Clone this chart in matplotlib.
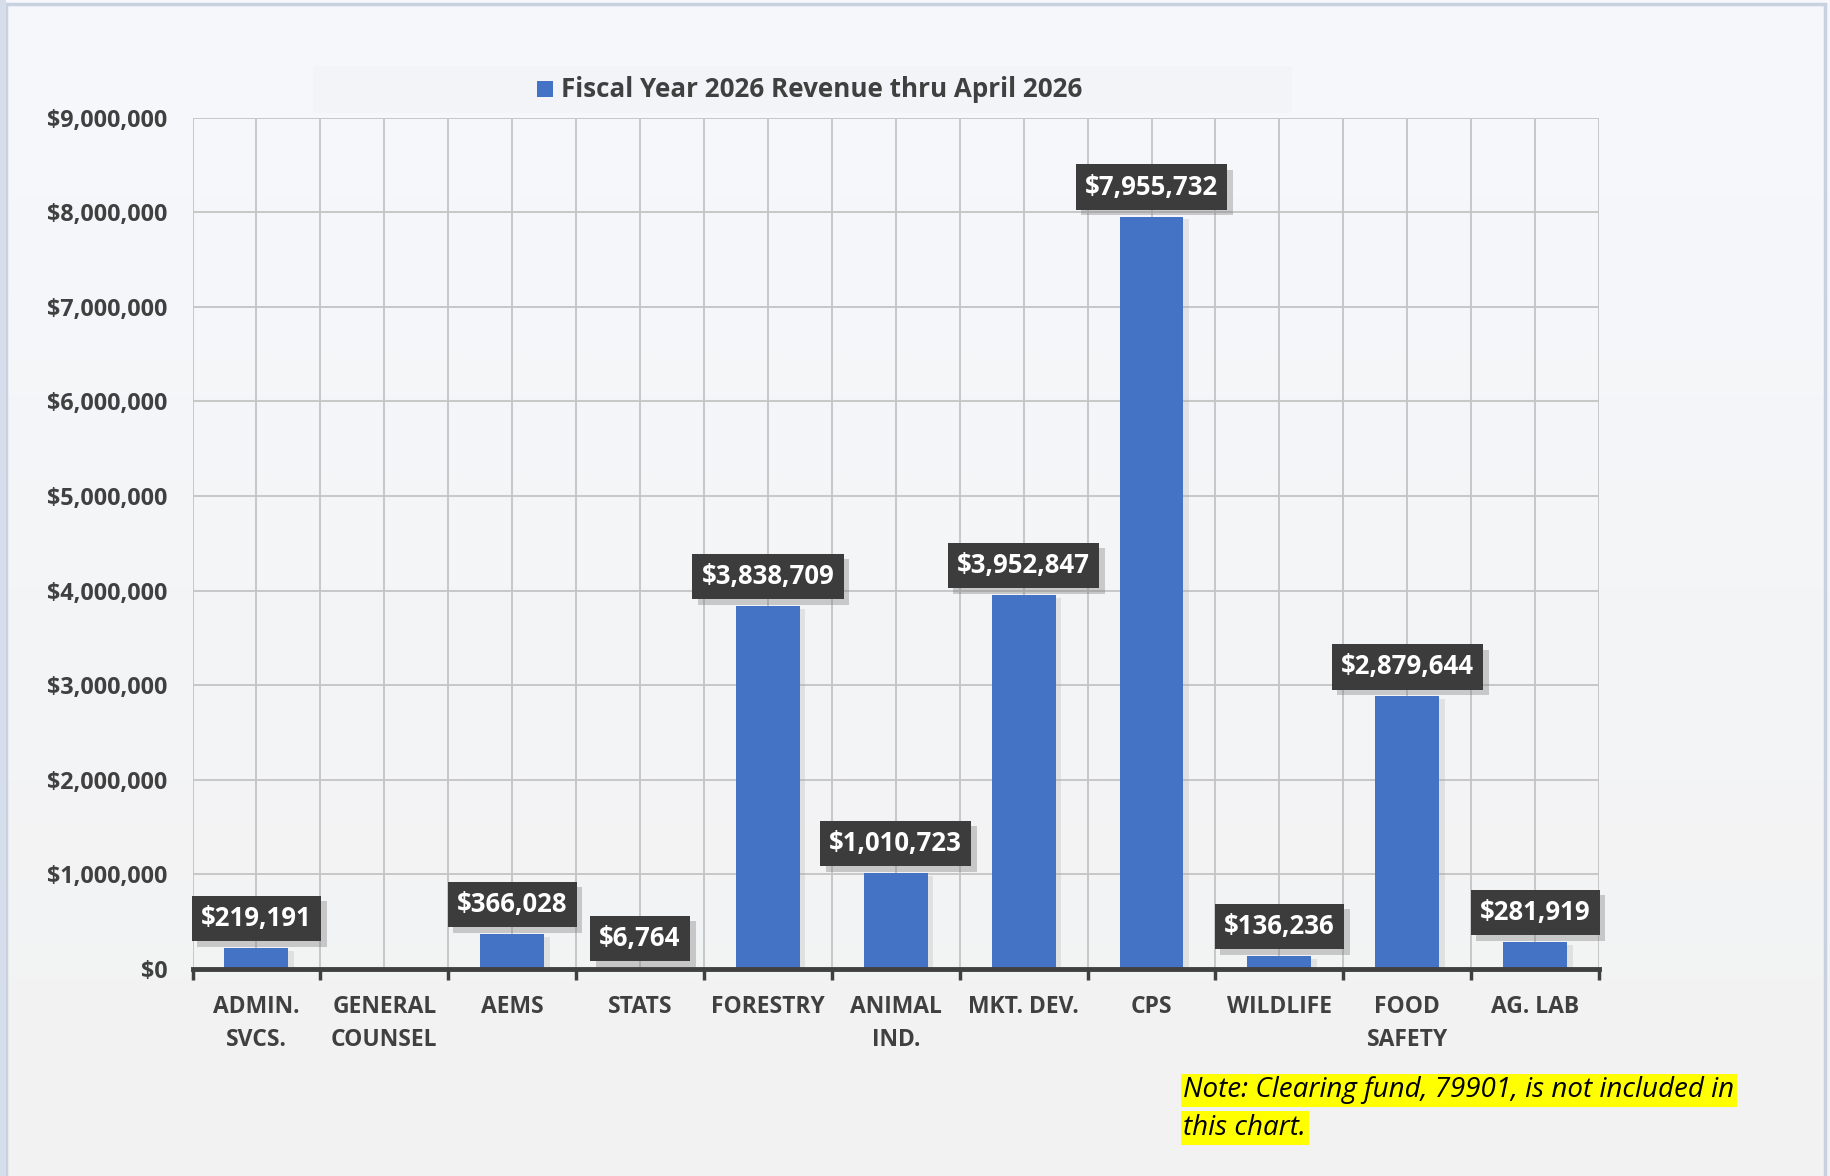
import matplotlib.pyplot as plt
import numpy as np
from matplotlib import patheffects as pe
from matplotlib.patches import Rectangle
from matplotlib.ticker import FuncFormatter

# data
categories = ["ADMIN.\nSVCS.", "GENERAL\nCOUNSEL", "AEMS", "STATS", "FORESTRY",
              "ANIMAL\nIND.", "MKT. DEV.", "CPS", "WILDLIFE", "FOOD\nSAFETY", "AG. LAB"]
revenue = [219191, 0, 366028, 6764, 3838709, 1010723, 3952847, 7955732,
           136236, 2879644, 281919]
y_ticks = list(range(0, 9_000_001, 1_000_000))
series_name = "Fiscal Year 2026 Revenue thru April 2026"
note_lines = ["Note: Clearing fund, 79901, is not included in", "this chart."]

BAR_COLOR = "#4472C4"
TEXT_COLOR = "#404040"
GRID_COLOR = "#c4c4c4"

plt.rcParams['font.family'] = ['Open Sans', 'DejaVu Sans']

fig = plt.figure(figsize=(18.3, 11.76), dpi=100)

# background gradient for the whole chart area
bg = fig.add_axes([0, 0, 1, 1], zorder=-10)
grad = np.linspace(0, 1, 256).reshape(-1, 1)
top = np.array([0xf6, 0xf8, 0xfc]) / 255
bot = np.array([0xf2, 0xf2, 0xf2]) / 255
img = top[None, None, :] * (1 - grad[:, :, None]) + bot[None, None, :] * grad[:, :, None]
bg.imshow(img, aspect='auto', extent=[0, 1, 0, 1])
bg.set_xlim(0, 1)
bg.set_ylim(0, 1)
bg.axis('off')
# outer frame and left strip
bg.add_patch(Rectangle((0.0035, -0.01), 0.9935, 1.007, fill=False,
                       edgecolor='#c8d1df', linewidth=2.5))
bg.add_patch(Rectangle((0, 0), 0.0035, 1, color='#d6deec', linewidth=0))
# faint legend box
bg.add_patch(Rectangle((0.171, 0.904), 0.535, 0.0396, color='#f2f4f7', linewidth=0))

ax = fig.add_axes([0.1052, 0.1763, 0.7686, 0.7235])
ax.set_facecolor('none')

x = np.arange(len(categories))
bars = ax.bar(x, revenue, width=0.5, color=BAR_COLOR, zorder=3)
for b in bars:
    b.set_path_effects([pe.SimplePatchShadow(offset=(4, -2), shadow_rgbFace='#a0a0a0', alpha=0.22),
                        pe.Normal()])

ax.set_xlim(-0.5, len(categories) - 0.5)
ax.set_ylim(0, 9_000_000)

# grid: horizontal at each tick, vertical at category edges and centers
ax.set_yticks(y_ticks)
for yv in y_ticks[1:]:
    ax.axhline(yv, color=GRID_COLOR, linewidth=1.3, zorder=1)
for xv in np.arange(-0.5, len(categories), 0.5):
    ax.axvline(xv, color=GRID_COLOR, linewidth=1.3, zorder=1)

ax.yaxis.set_major_formatter(FuncFormatter(lambda v, p: f"${v:,.0f}"))
ax.tick_params(axis='y', length=0, pad=18, labelsize=16.8, labelcolor=TEXT_COLOR)
for lbl in ax.get_yticklabels():
    lbl.set_fontweight('bold')

ax.set_xticks(x)
ax.set_xticklabels(categories, fontsize=16.5, fontweight='bold', color=TEXT_COLOR,
                   linespacing=1.5)
ax.set_xticks(np.arange(-0.5, len(categories), 1.0), minor=True)
ax.tick_params(axis='x', which='major', length=0, pad=19)
ax.tick_params(axis='x', which='minor', length=8, width=2.5, color=TEXT_COLOR, direction='out')

for side in ['left', 'right', 'top']:
    ax.spines[side].set_visible(False)
ax.spines['bottom'].set_color(TEXT_COLOR)
ax.spines['bottom'].set_linewidth(3.5)
ax.spines['bottom'].set_zorder(5)

# data labels in dark boxes
for xi, v in zip(x, revenue):
    if v <= 0:
        continue
    t = ax.annotate(f"${v:,.0f}", (xi, v), xytext=(0, 11.5), textcoords='offset points',
                    ha='center', va='bottom', fontsize=18.5, fontweight='bold', color='white',
                    zorder=6,
                    bbox=dict(boxstyle='square,pad=0.36', facecolor='#3c3c3c', edgecolor='none'))
    t.get_bbox_patch().set_path_effects([
        pe.SimplePatchShadow(offset=(4, -4), shadow_rgbFace='#777777', alpha=0.35),
        pe.Normal()])

# legend drawn by hand to sit where the reference puts it
fig.patches.append(Rectangle((0.2934, 0.9178), 0.0087, 0.0135, transform=fig.transFigure,
                             facecolor=BAR_COLOR, edgecolor='none'))
fig.text(0.3067, 0.9236, series_name, fontsize=18.7, fontweight='bold', color=TEXT_COLOR,
         ha='left', va='center')

# highlighted note
fig.text(0.6466, 0.0728, note_lines[0], fontsize=20, style='italic', color='black',
         ha='left', va='center',
         bbox=dict(boxstyle='square,pad=0.1', facecolor='#ffff00', edgecolor='none'))
fig.text(0.6466, 0.0408, note_lines[1], fontsize=20, style='italic', color='black',
         ha='left', va='center',
         bbox=dict(boxstyle='square,pad=0.1', facecolor='#ffff00', edgecolor='none'))

fig.savefig('out.png', dpi=100)
